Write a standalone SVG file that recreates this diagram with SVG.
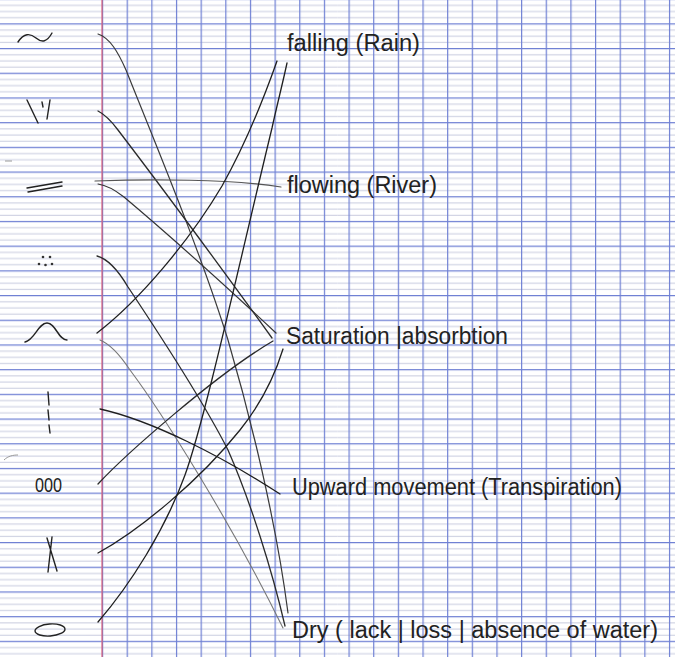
<svg xmlns="http://www.w3.org/2000/svg" width="675" height="657" viewBox="0 0 675 657">
  <defs>
    <pattern id="hlines" patternUnits="userSpaceOnUse" x="0" y="23.3" width="675" height="24.7">
      <line x1="0" y1="0.6" x2="675" y2="0.6" stroke="#6f80d4" stroke-width="1.2"/>
      <line x1="0" y1="6.8" x2="675" y2="6.8" stroke="#b9bdd6" stroke-width="0.8"/>
      <line x1="0" y1="12.95" x2="675" y2="12.95" stroke="#b9bdd6" stroke-width="0.8"/>
      <line x1="0" y1="19.1" x2="675" y2="19.1" stroke="#b9bdd6" stroke-width="0.8"/>
    </pattern>
    <pattern id="vlines" patternUnits="userSpaceOnUse" x="102" y="0" width="24.65" height="657">
      <line x1="0.6" y1="0" x2="0.6" y2="657" stroke="#6f80d4" stroke-width="1.2"/>
    </pattern>
  </defs>
  <style>
    .sym { fill: none; stroke: #222; stroke-width: 1.4; stroke-linecap: round; stroke-linejoin: round; }
    .dot { fill: #333; }
    .conn { fill: none; stroke-linecap: round; }
    .lbl { font-family: "Liberation Sans", Arial, sans-serif; font-size: 23px; fill: #222; }
    .num { font-family: "Liberation Sans", Arial, sans-serif; font-size: 21px; fill: #222; }
  </style>

  <!-- paper -->
  <rect x="0" y="0" width="675" height="657" fill="#ffffff"/>
  <rect x="0" y="0" width="675" height="657" fill="url(#hlines)"/>
  <rect x="102" y="0" width="573" height="657" fill="url(#vlines)"/>
  <line x1="102" y1="0" x2="102" y2="657" stroke="#d9607a" stroke-width="1.2"/>
  <path d="M5,161 L12,161" stroke="#999" stroke-width="1" fill="none"/>
  <path d="M4,460 C8,456 13,455 18,455" stroke="#999" stroke-width="1" fill="none"/>

  <!-- left symbol nodes -->
  <g id="sym-tilde"><path class="sym" d="M18,42 C24,33 30,33 36,38 C42,43 47,42 52,33"/></g>
  <g id="sym-slashes"><path class="sym" d="M27,100 L38,123 M42,102 L43,107 M50,100 L47,119"/></g>
  <g id="sym-equals"><path class="sym" d="M27,188 L62,182 M28,192 L62,186"/></g>
  <g id="sym-dots">
    <circle class="dot" cx="43" cy="257" r="1.3"/>
    <circle class="dot" cx="50" cy="257" r="1.3"/>
    <circle class="dot" cx="39" cy="264" r="1.3"/>
    <circle class="dot" cx="45.5" cy="265" r="1.3"/>
    <circle class="dot" cx="52" cy="264" r="1.3"/>
  </g>
  <g id="sym-bell"><path class="sym" d="M25,342 C35,340 38,323 47,323 C56,323 58,340 67,340"/></g>
  <g id="sym-dashed"><path class="sym" d="M48,392 L49,405 M48,410 L49,420 M49,425 L50,433"/></g>
  <g id="sym-000"><text class="num" x="35" y="492" textLength="27" lengthAdjust="spacingAndGlyphs">000</text></g>
  <g id="sym-x"><path class="sym" d="M47,538 L57,571 M52,537 L48,572"/></g>
  <g id="sym-oval"><ellipse class="sym" cx="50" cy="630" rx="15" ry="6" transform="rotate(-4 50 630)"/></g>

  <!-- right label nodes -->
  <g id="lbl-falling"><text class="lbl" x="287" y="51" textLength="133" lengthAdjust="spacingAndGlyphs">falling (Rain)</text></g>
  <g id="lbl-flowing"><text class="lbl" x="287" y="193" textLength="150" lengthAdjust="spacingAndGlyphs">flowing (River)</text></g>
  <g id="lbl-saturation"><text class="lbl" x="286" y="344" textLength="222" lengthAdjust="spacingAndGlyphs">Saturation |absorbtion</text></g>
  <g id="lbl-upward"><text class="lbl" x="292" y="495" textLength="330" lengthAdjust="spacingAndGlyphs">Upward movement (Transpiration)</text></g>
  <g id="lbl-dry"><text class="lbl" x="292" y="638" textLength="366" lengthAdjust="spacingAndGlyphs">Dry ( lack | loss | absence of water)</text></g>

  <!-- connectors -->
  <g id="connectors">
    <path class="conn" stroke="#3a3a3a" stroke-width="1.2" d="M98,34 C110,38 118,52 126,70 C150,130 200,250 228,340 C250,415 276,520 288,613"/>
    <path class="conn" stroke="#2a2a2a" stroke-width="1.3" d="M98,111 C106,115 112,122 118,130 C160,185 230,280 272,338"/>
    <path class="conn" stroke="#555" stroke-width="1.2" d="M95,181 C150,179 230,179 281,187"/>
    <path class="conn" stroke="#333" stroke-width="1.2" d="M98,184 C105,185 115,190 124,197 C175,240 230,290 276,333"/>
    <path class="conn" stroke="#2a2a2a" stroke-width="1.3" d="M97,256 C108,259 118,270 128,287 C150,320 200,395 228,450 C250,500 272,570 285,626"/>
    <path class="conn" stroke="#1f1f1f" stroke-width="1.3" d="M97,333 C140,300 190,240 222,186 C245,145 265,95 277,61"/>
    <path class="conn" stroke="#777" stroke-width="1.1" d="M100,340 C110,344 120,355 130,370 C160,410 230,520 283,628"/>
    <path class="conn" stroke="#1f1f1f" stroke-width="1.3" d="M100,409 C150,420 220,455 280,494"/>
    <path class="conn" stroke="#2a2a2a" stroke-width="1.3" d="M98,484 C125,455 215,375 273,341"/>
    <path class="conn" stroke="#1f1f1f" stroke-width="1.3" d="M98,553 C140,530 200,480 240,430 C260,405 275,375 283,349"/>
    <path class="conn" stroke="#1f1f1f" stroke-width="1.3" d="M98,622 C130,585 165,530 185,475 C205,420 240,260 272,128 C277,105 283,82 287,63"/>
  </g>
</svg>
